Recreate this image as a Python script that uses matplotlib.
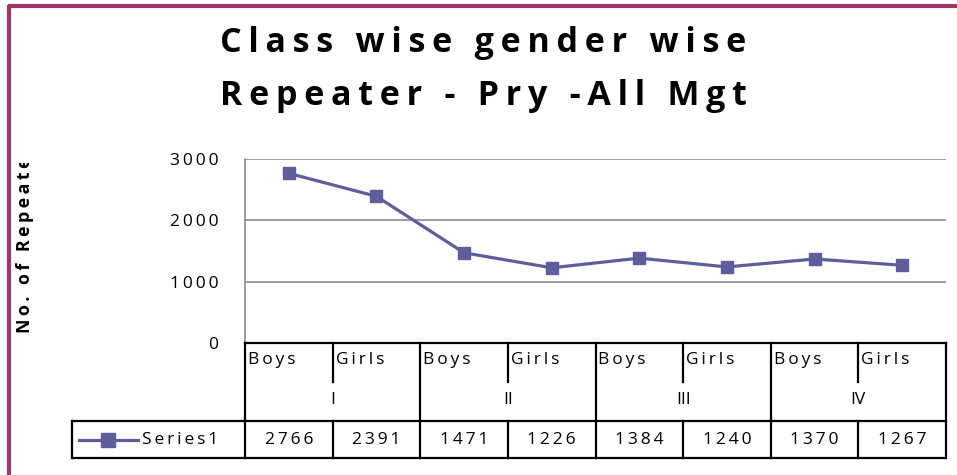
import matplotlib
matplotlib.use('Agg')
import matplotlib.pyplot as plt
from matplotlib.lines import Line2D
from matplotlib.patches import Rectangle

# ── data ────────────────────────────────────────────────────────────────
classes = ['I', 'II', 'III', 'IV']
genders = ['Boys', 'Girls']
repeaters = [2766, 2391, 1471, 1226, 1384, 1240, 1370, 1267]
series_name = 'Series1'
yticks = [0, 1000, 2000, 3000]

TITLE_1 = 'Class wise gender wise'
TITLE_2 = 'Repeater - Pry -All Mgt'
YLABEL = 'No. of Repeaters'

LINE_C = '#5F5E9C'
BORDER_C = '#9E3669'
FONT = ['Open Sans', 'DejaVu Sans']


def spaced(s, sep='\u2009'):
    # imitate the wide letter spacing of the original
    return sep.join(s)


W, H = 957, 475
fig = plt.figure(figsize=(W / 100, H / 100), dpi=100)
plt.rcParams['font.family'] = FONT


def fx(px):
    return px / W


def fy(py):
    return 1 - py / H


# pixel layout of plot area and table
L, R, T, B = 245, 946, 159, 343
TAB_L, ROW1, ROW2, TAB_B = 72, 382, 421, 458

ax = fig.add_axes([fx(L), fy(B), fx(R) - fx(L), fy(T) - fy(B)])
n = len(repeaters)
ax.set_xlim(-0.5, n - 0.5)
ax.set_ylim(0, 3000)
ax.plot(range(n), repeaters, color=LINE_C, lw=2.3, marker='s', ms=9,
        mec=LINE_C, mfc=LINE_C, zorder=3, clip_on=False)
ax.set_yticks(yticks)
ax.set_yticklabels([spaced(str(v)) for v in yticks], fontsize=12.5)
ax.set_xticks([])
ax.grid(axis='y', color='#8c8c8c', lw=1.2)
ax.tick_params(axis='y', length=0, pad=19)
for s in ['top', 'right', 'bottom']:
    ax.spines[s].set_visible(False)
ax.spines['left'].set_color('#8c8c8c')
ax.spines['left'].set_linewidth(1.2)

# title, two lines
fig.text(fx(483), fy(43), spaced(TITLE_1), ha='center', va='center',
         fontsize=24.5, fontweight='bold')
fig.text(fx(483), fy(96), spaced(TITLE_2), ha='center', va='center',
         fontsize=24.5, fontweight='bold')

# y label, cut off at the top like the original
fig.text(fx(25), fy(333), spaced(YLABEL), rotation=90, ha='center',
         va='bottom', fontsize=12.8, fontweight='bold', zorder=2)
fig.add_artist(Rectangle((fx(12), fy(163)), fx(30), fy(120) - fy(163),
                         transform=fig.transFigure, facecolor='white',
                         edgecolor='none', zorder=2.5))

# ── data table below the axis ─────────────────────────────────────────
tab = fig.add_axes([0, 0, 1, 1], facecolor='none')
tab.set_xlim(0, W)
tab.set_ylim(H, 0)
tab.axis('off')

colw = (R - L) / n
edges = [L + i * colw for i in range(n + 1)]
lk = dict(color='black', lw=1.6, solid_capstyle='projecting')

tab.plot([L, R], [B, B], **lk)
tab.plot([R, R], [B, TAB_B], **lk)
tab.plot([TAB_L, R], [ROW2, ROW2], **lk)
tab.plot([TAB_L, R], [TAB_B, TAB_B], **lk)
tab.plot([TAB_L, TAB_L], [ROW2, TAB_B], **lk)
for i, x in enumerate(edges[:-1]):
    if i % 2 == 1:
        # boys/girls divider stops above the class label
        tab.plot([x, x], [B, ROW1], **lk)
        tab.plot([x, x], [ROW2, TAB_B], **lk)
    else:
        tab.plot([x, x], [B, TAB_B], **lk)

fs = 12.5
for i in range(n):
    tab.text(edges[i] + 3, (B + ROW1) / 2 - 3, spaced(genders[i % 2]),
             ha='left', va='center', fontsize=fs)
    tab.text((edges[i] + edges[i + 1]) / 2, (ROW2 + TAB_B) / 2,
             spaced(str(repeaters[i])), ha='center', va='center', fontsize=fs)
for k, c in enumerate(classes):
    tab.text(edges[2 * k + 1], (ROW1 + ROW2) / 2 - 1, c, ha='center',
             va='center', fontsize=fs)

# legend key in the row header
ymid = (ROW2 + TAB_B) / 2
tab.add_line(Line2D([79, 138], [ymid, ymid], color=LINE_C, lw=2.3))
tab.add_line(Line2D([108], [ymid], color=LINE_C, marker='s', ms=10,
                    mfc=LINE_C, mec=LINE_C))
tab.text(142, ymid, spaced(series_name), ha='left', va='center', fontsize=fs)

# chart border (only top and left are visible)
tab.plot([8, W], [5.5, 5.5], color=BORDER_C, lw=3, solid_capstyle='butt')
tab.plot([8.5, 8.5], [5, H], color=BORDER_C, lw=3, solid_capstyle='butt')

fig.savefig('out.png', dpi=100)
